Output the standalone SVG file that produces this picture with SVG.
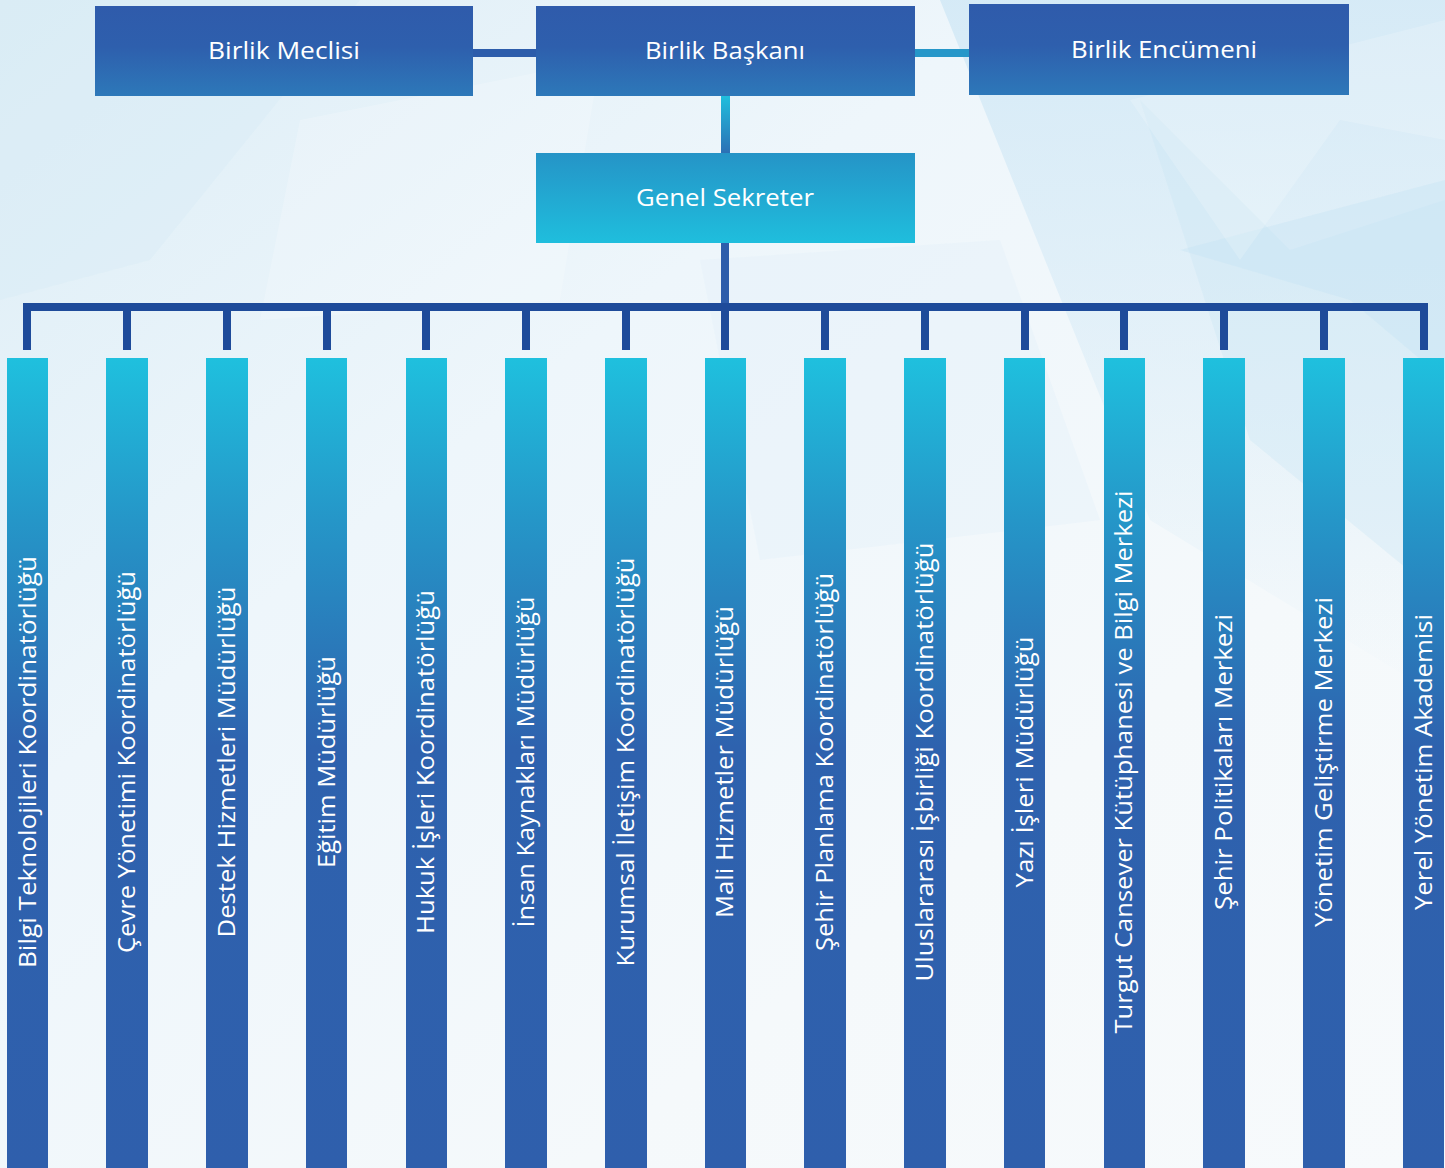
<svg xmlns="http://www.w3.org/2000/svg" width="1445" height="1168" viewBox="0 0 1445 1168">
<defs>
<linearGradient id="bg" x1="0" y1="0" x2="1" y2="1">
<stop offset="0" stop-color="#dcedf6"/>
<stop offset="0.35" stop-color="#eef6fb"/>
<stop offset="0.7" stop-color="#f5f9fb"/>
<stop offset="1" stop-color="#f7fafc"/>
</linearGradient>
<linearGradient id="bgR" x1="0" y1="0" x2="0" y2="1">
<stop offset="0" stop-color="#d3e9f6" stop-opacity="0.9"/>
<stop offset="1" stop-color="#d3e9f6" stop-opacity="0"/>
</linearGradient>
<linearGradient id="topBox" x1="0" y1="0" x2="0" y2="1">
<stop offset="0" stop-color="#2f5bab"/>
<stop offset="0.45" stop-color="#2e5fad"/>
<stop offset="1" stop-color="#2d78b9"/>
</linearGradient>
<linearGradient id="genBox" x1="0" y1="0" x2="0" y2="1">
<stop offset="0" stop-color="#2594c7"/>
<stop offset="1" stop-color="#1fbedd"/>
</linearGradient>
<linearGradient id="vlink" x1="0" y1="0" x2="0" y2="1">
<stop offset="0" stop-color="#20bedd"/>
<stop offset="1" stop-color="#2c70b5"/>
</linearGradient>
<linearGradient id="col" gradientUnits="userSpaceOnUse" x1="0" y1="358" x2="0" y2="1168">
<stop offset="0" stop-color="#1fc0de"/>
<stop offset="0.2" stop-color="#2596c8"/>
<stop offset="0.48" stop-color="#2e62ae"/>
<stop offset="1" stop-color="#2f5fac"/>
</linearGradient>
<style>
.box{stroke:none}
.t{font-family:"Open Sans","Noto Sans","DejaVu Sans",sans-serif;fill:#ffffff;font-size:24px;font-weight:500;text-anchor:middle}
.v{font-family:"Open Sans","Noto Sans","DejaVu Sans",sans-serif;fill:#ffffff;font-size:23px;font-weight:500;text-anchor:middle}
.bar{fill:#1e4b9a}
.colr{fill:url(#col)}
</style>
</defs>
<g id="background">
<rect x="0" y="0" width="1445" height="1168" fill="url(#bg)"/>
<polygon points="940,0 1445,0 1445,700 1150,520" fill="url(#bgR)"/>
<polygon points="1140,100 1290,250 1445,200 1445,600 1250,440" fill="#c8e4f4" opacity="0.35"/>
<polygon points="1180,250 1445,180 1445,380 1350,300" fill="#c2e1f3" opacity="0.35"/>
<polygon points="0,0 360,0 150,260 0,300" fill="#d6eaf5" opacity="0.4"/>
<polygon points="1130,100 1240,260 1340,120 1445,140 1445,20" fill="#ffffff" opacity="0.18"/>
<polygon points="300,120 600,60 560,300 260,320" fill="#ffffff" opacity="0.2"/>
<polygon points="700,260 1000,240 1100,520 760,560" fill="#e3f1f9" opacity="0.4"/>
</g>
<g id="connectors">
<rect x="473" y="49" width="63" height="8" fill="#2d5dab"/>
<rect x="915" y="49" width="54" height="8" fill="#2697c9"/>
<rect x="721" y="96" width="9" height="57" fill="url(#vlink)"/>
<rect x="721" y="243" width="8" height="62" fill="#2d5dab"/>
<rect class="bar" x="23" y="303" width="1405" height="8"/>
<rect class="bar" x="23" y="303" width="8" height="47"/>
<rect class="bar" x="123" y="303" width="8" height="47"/>
<rect class="bar" x="223" y="303" width="8" height="47"/>
<rect class="bar" x="323" y="303" width="8" height="47"/>
<rect class="bar" x="422" y="303" width="8" height="47"/>
<rect class="bar" x="522" y="303" width="8" height="47"/>
<rect class="bar" x="622" y="303" width="8" height="47"/>
<rect class="bar" x="721" y="303" width="8" height="47"/>
<rect class="bar" x="821" y="303" width="8" height="47"/>
<rect class="bar" x="921" y="303" width="8" height="47"/>
<rect class="bar" x="1021" y="303" width="8" height="47"/>
<rect class="bar" x="1120" y="303" width="8" height="47"/>
<rect class="bar" x="1220" y="303" width="8" height="47"/>
<rect class="bar" x="1320" y="303" width="8" height="47"/>
<rect class="bar" x="1420" y="303" width="8" height="47"/>
</g>
<g id="birlik-meclisi">
<rect class="box" x="95" y="6" width="378" height="90" fill="url(#topBox)"/>
<text class="t" x="284" y="59" textLength="152" lengthAdjust="spacingAndGlyphs">Birlik Meclisi</text>
</g>
<g id="birlik-baskani">
<rect class="box" x="536" y="6" width="379" height="90" fill="url(#topBox)"/>
<text class="t" x="725" y="59" textLength="160" lengthAdjust="spacingAndGlyphs">Birlik Başkanı</text>
</g>
<g id="birlik-encumeni">
<rect class="box" x="969" y="4" width="380" height="91" fill="url(#topBox)"/>
<text class="t" x="1164" y="58" textLength="186" lengthAdjust="spacingAndGlyphs">Birlik Encümeni</text>
</g>
<g id="genel-sekreter">
<rect class="box" x="536" y="153" width="379" height="90" fill="url(#genBox)"/>
<text class="t" x="725" y="206" textLength="178" lengthAdjust="spacingAndGlyphs">Genel Sekreter</text>
</g>
<g id="c1"><rect class="colr" x="7" y="358" width="41" height="810"/><text class="v" transform="translate(36,762) rotate(-90)" textLength="412" lengthAdjust="spacingAndGlyphs">Bilgi Teknolojileri Koordinatörlüğü</text></g>
<g id="c2"><rect class="colr" x="106" y="358" width="42" height="810"/><text class="v" transform="translate(135,762) rotate(-90)" textLength="382" lengthAdjust="spacingAndGlyphs">Çevre Yönetimi Koordinatörlüğü</text></g>
<g id="c3"><rect class="colr" x="206" y="358" width="42" height="810"/><text class="v" transform="translate(235,762) rotate(-90)" textLength="351" lengthAdjust="spacingAndGlyphs">Destek Hizmetleri Müdürlüğü</text></g>
<g id="c4"><rect class="colr" x="306" y="358" width="41" height="810"/><text class="v" transform="translate(335,762) rotate(-90)" textLength="212" lengthAdjust="spacingAndGlyphs">Eğitim Müdürlüğü</text></g>
<g id="c5"><rect class="colr" x="406" y="358" width="41" height="810"/><text class="v" transform="translate(434,762) rotate(-90)" textLength="344" lengthAdjust="spacingAndGlyphs">Hukuk İşleri Koordinatörlüğü</text></g>
<g id="c6"><rect class="colr" x="505" y="358" width="42" height="810"/><text class="v" transform="translate(534,762) rotate(-90)" textLength="331" lengthAdjust="spacingAndGlyphs">İnsan Kaynakları Müdürlüğü</text></g>
<g id="c7"><rect class="colr" x="605" y="358" width="42" height="810"/><text class="v" transform="translate(634,762) rotate(-90)" textLength="409" lengthAdjust="spacingAndGlyphs">Kurumsal İletişim Koordinatörlüğü</text></g>
<g id="c8"><rect class="colr" x="705" y="358" width="41" height="810"/><text class="v" transform="translate(733,762) rotate(-90)" textLength="312" lengthAdjust="spacingAndGlyphs">Mali Hizmetler Müdürlüğü</text></g>
<g id="c9"><rect class="colr" x="804" y="358" width="42" height="810"/><text class="v" transform="translate(833,762) rotate(-90)" textLength="378" lengthAdjust="spacingAndGlyphs">Şehir Planlama Koordinatörlüğü</text></g>
<g id="c10"><rect class="colr" x="904" y="358" width="42" height="810"/><text class="v" transform="translate(933,762) rotate(-90)" textLength="439" lengthAdjust="spacingAndGlyphs">Uluslararası İşbirliği Koordinatörlüğü</text></g>
<g id="c11"><rect class="colr" x="1004" y="358" width="41" height="810"/><text class="v" transform="translate(1033,762) rotate(-90)" textLength="251" lengthAdjust="spacingAndGlyphs">Yazı İşleri Müdürlüğü</text></g>
<g id="c12"><rect class="colr" x="1104" y="358" width="41" height="810"/><text class="v" transform="translate(1132,762) rotate(-90)" textLength="543" lengthAdjust="spacingAndGlyphs">Turgut Cansever Kütüphanesi ve Bilgi Merkezi</text></g>
<g id="c13"><rect class="colr" x="1203" y="358" width="42" height="810"/><text class="v" transform="translate(1232,762) rotate(-90)" textLength="296" lengthAdjust="spacingAndGlyphs">Şehir Politikaları Merkezi</text></g>
<g id="c14"><rect class="colr" x="1303" y="358" width="42" height="810"/><text class="v" transform="translate(1332,762) rotate(-90)" textLength="330" lengthAdjust="spacingAndGlyphs">Yönetim Geliştirme Merkezi</text></g>
<g id="c15"><rect class="colr" x="1403" y="358" width="41" height="810"/><text class="v" transform="translate(1432,762) rotate(-90)" textLength="296" lengthAdjust="spacingAndGlyphs">Yerel Yönetim Akademisi</text></g>
</svg>
